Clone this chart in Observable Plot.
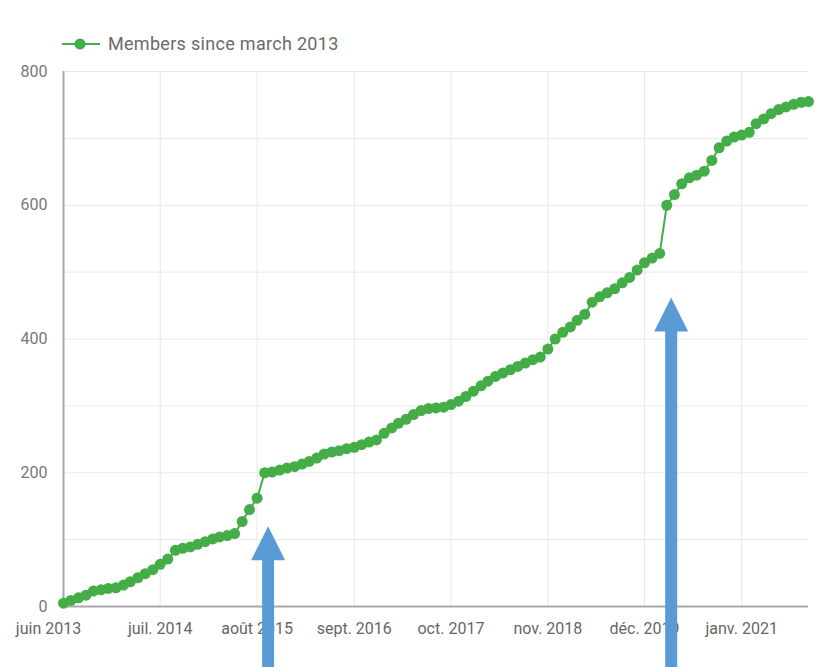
<!DOCTYPE html>
<html>
<head>
<meta charset="utf-8">
<script src="https://cdn.jsdelivr.net/npm/d3@7"></script>
<script src="https://cdn.jsdelivr.net/npm/@observablehq/plot@0.6"></script>
<style>
  body { margin: 0; background: #fff; font-family: Roboto, sans-serif; }
  #legend { position: relative; height: 60px; }
  #legend svg { position: absolute; left: 60px; top: 37px; }
  #legend span { position: absolute; left: 108px; top: 34px; font-size: 18px; line-height: 20px; color: #6b6b6b; letter-spacing: 0.3px; }
  #chart svg { display: block; overflow: visible; }
</style>
</head>
<body>
<div id="legend">
  <svg width="42" height="14"><line x1="2" y1="7" x2="40" y2="7" stroke="#44ad48" stroke-width="2"/><circle cx="20" cy="7" r="5.5" fill="#44ad48"/></svg>
  <span>Members since march 2013</span>
</div>
<div id="chart"></div>
<script>
// Monthly member counts, starting June 2013
const startMonth = "2013-06-01";
const members = [
  5, 9, 13, 17, 23, 25, 27, 28, 32, 37,
  43, 49, 55, 63, 71, 84, 87, 89, 93, 97,
  101, 104, 106, 109, 127, 145, 162, 200, 201, 204,
  207, 209, 213, 217, 222, 228, 231, 233, 236, 238,
  242, 246, 249, 259, 267, 274, 280, 287, 293, 296,
  297, 298, 302, 307, 314, 322, 330, 337, 344, 349,
  354, 359, 364, 369, 373, 385, 400, 410, 418, 428,
  437, 455, 463, 469, 475, 484, 492, 503, 514, 521,
  528, 600, 616, 632, 641, 645, 651, 667, 686, 696,
  702, 705, 709, 722, 729, 737, 743, 747, 751, 754,
  755
];
const xDomain = ["2013-06-01", "2021-10-01"];
const tickDates = ["2013-06-01", "2014-07-01", "2015-08-01", "2016-09-01", "2017-10-01", "2018-11-01", "2019-12-01", "2021-01-01"];
const tickLabels = ["juin 2013", "juil. 2014", "août 2015", "sept. 2016", "oct. 2017", "nov. 2018", "déc. 2019", "janv. 2021"];
const yTicks = [0, 200, 400, 600, 800];
const yGrid = [100, 200, 300, 400, 500, 600, 700, 800];
// Annotation arrows: date, value of the arrow tip, value where the shaft meets the head
const arrowDates = ["2015-09-15", "2020-03-19"];
const arrowTips = [120, 462];
const arrowNecks = [84, 426];
const arrowBase = -95;

const green = "#44ad48";
const blue = "#5b9bd5";

const start = new Date(startMonth);
const data = members.map((v, i) => ({date: d3.utcMonth.offset(start, i), value: v}));
const ticks = tickDates.map(d => new Date(d));
const labelOf = new Map(ticks.map((t, i) => [+t, tickLabels[i]]));
const arrows = arrowDates.map((d, i) => ({date: new Date(d), tip: arrowTips[i], neck: arrowNecks[i], base: arrowBase}));

const headSymbol = {
  draw(context, size) {
    const s = Math.sqrt(size);
    context.moveTo(0, 0);
    context.lineTo(s / 2, s);
    context.lineTo(-s / 2, s);
    context.closePath();
  }
};

const chart = Plot.plot({
  width: 818,
  height: 607,
  marginLeft: 63,
  marginRight: 10,
  marginTop: 11,
  marginBottom: 61,
  style: {fontFamily: "Roboto, sans-serif", fontSize: "16px", color: "#6b6b6b", background: "#fff"},
  x: {type: "utc", domain: xDomain.map(d => new Date(d))},
  y: {domain: [0, 800]},
  marks: [
    Plot.gridY(yGrid, {stroke: "#e8e8e8", strokeOpacity: 1, strokeWidth: 1}),
    Plot.gridX(ticks.slice(1), {stroke: "#e8e8e8", strokeOpacity: 1, strokeWidth: 1}),
    Plot.axisY(yTicks, {tickSize: 0, tickPadding: 16, label: null, fill: "#777"}),
    Plot.axisX(ticks.slice(1), {tickSize: 0, tickPadding: 16, label: null, tickFormat: d => labelOf.get(+d), fill: "#666"}),
    Plot.axisX(ticks.slice(0, 1), {tickSize: 0, tickPadding: 16, label: null, tickFormat: d => labelOf.get(+d), fill: "#666", dx: -15}),
    Plot.ruleY([0], {stroke: "#a8a8a8", strokeWidth: 2}),
    Plot.ruleX([new Date(xDomain[0])], {y1: 0, y2: 800, stroke: "#a8a8a8", strokeWidth: 2}),
    Plot.line(data, {x: "date", y: "value", stroke: green, strokeWidth: 2}),
    Plot.dot(data, {x: "date", y: "value", r: 5.5, fill: green, stroke: "none"}),
    Plot.ruleX(arrows, {x: "date", y1: "base", y2: "neck", stroke: blue, strokeWidth: 12}),
    Plot.dot(arrows, {x: "date", y: "tip", r: 19.2, fill: blue, stroke: "none", symbol: headSymbol})
  ]
});
document.getElementById("chart").appendChild(chart);
</script>
</body>
</html>
